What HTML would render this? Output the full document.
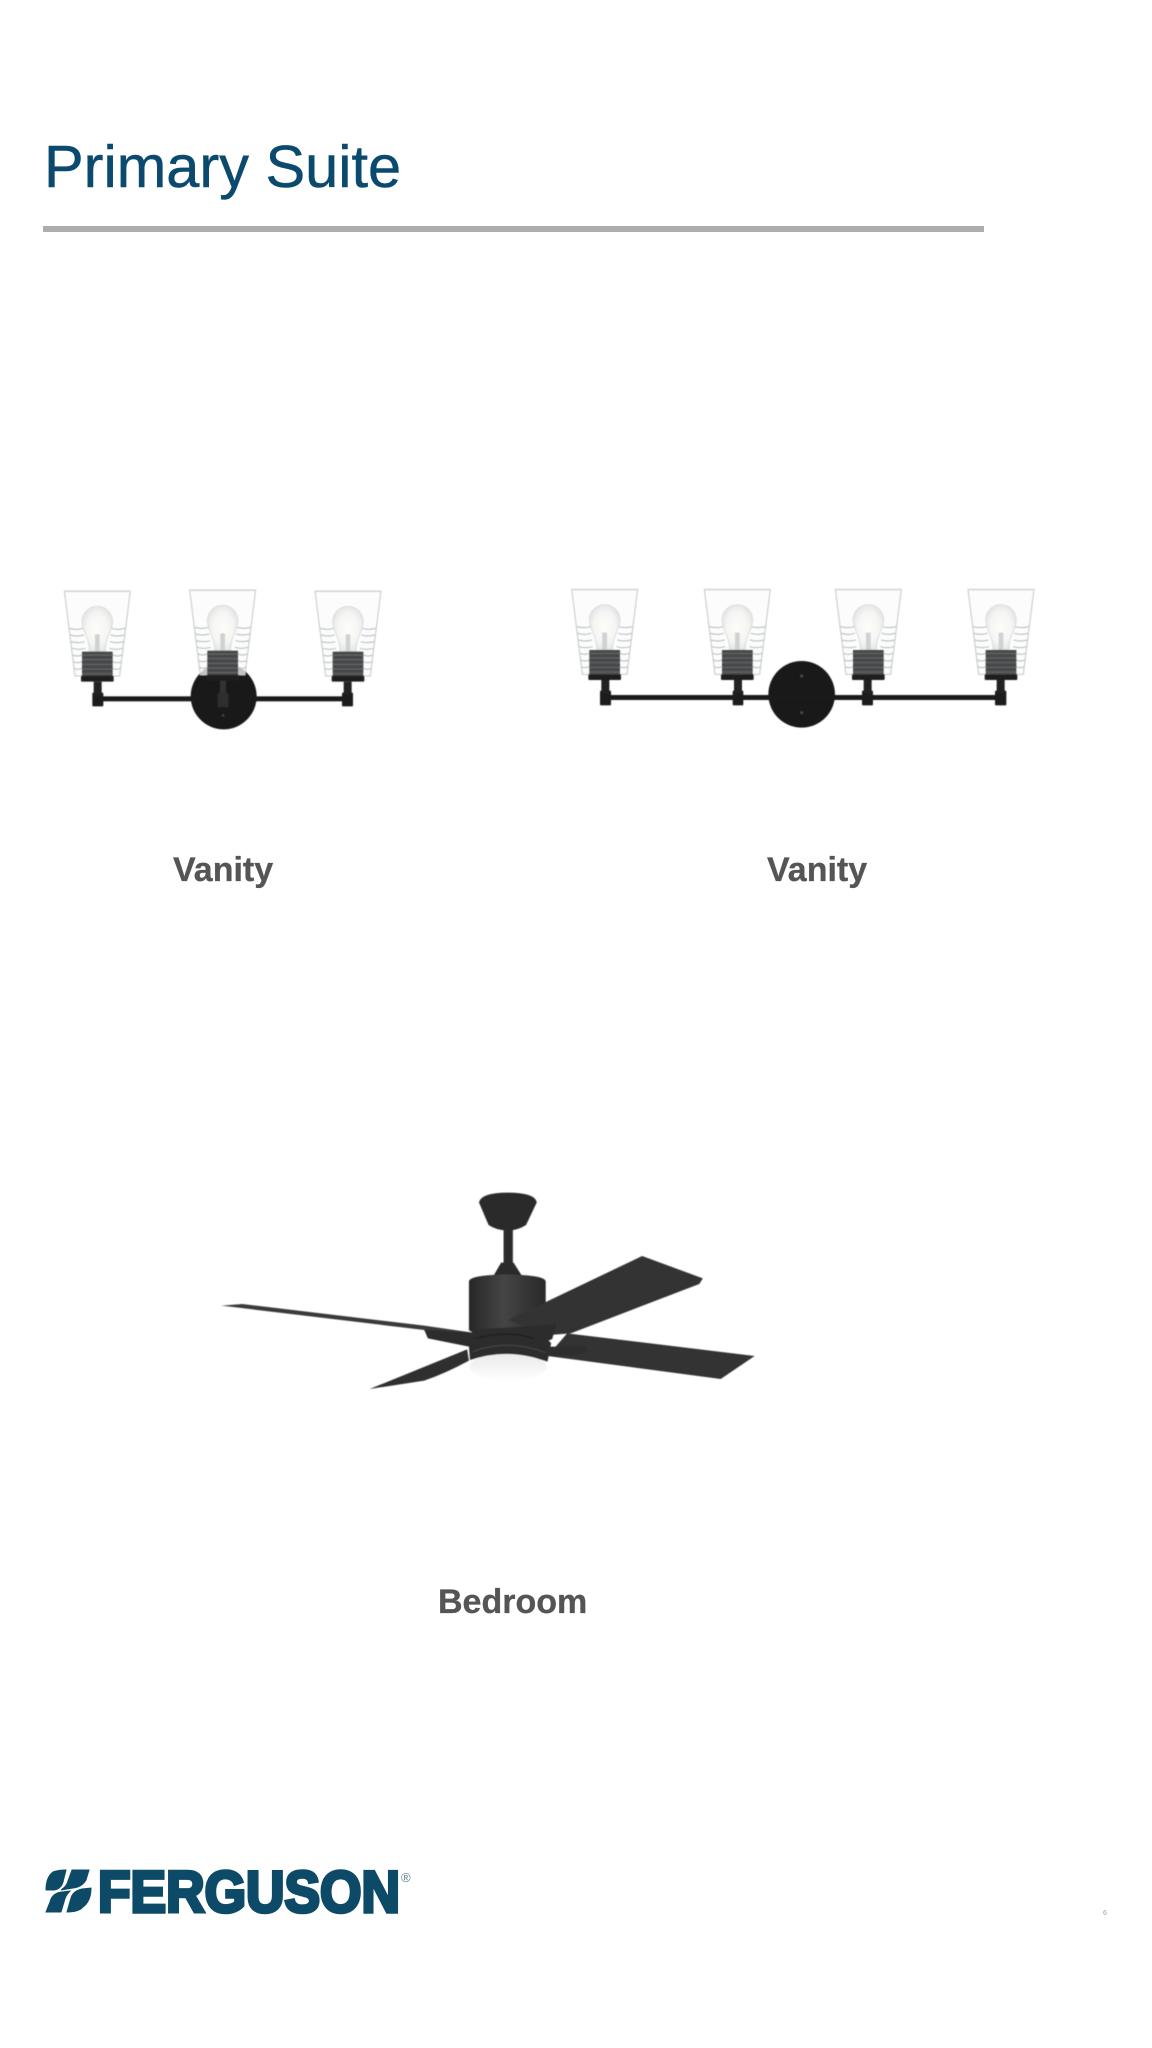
<!DOCTYPE html>
<html><head><meta charset="utf-8"><title>Primary Suite</title>
<style>
html,body{margin:0;padding:0;background:#fff}
#p{position:relative;width:1152px;height:2048px;background:#fff;overflow:hidden;font-family:"Liberation Sans",Arial,sans-serif}
.t{position:absolute;white-space:nowrap;line-height:1}
svg{position:absolute;overflow:visible}
.lb{font-weight:700;font-size:34px;color:#555;-webkit-text-stroke:.3px #555}
.soft{filter:blur(.55px)}
</style></head><body><div id="p">
<div class="t" style="left:44px;top:137px;font-size:59.5px;color:#0b4a6e;-webkit-text-stroke:.5px #0b4a6e">Primary Suite</div>
<div style="position:absolute;left:43px;top:226px;width:941px;height:6px;background:#adadad"></div>

<svg width="0" height="0" style="position:absolute"><defs>
<radialGradient id="bg"><stop offset="0" stop-color="#fffdf8"/><stop offset=".7" stop-color="#f5f5f4"/><stop offset="1" stop-color="#e6e7e7"/></radialGradient>
<linearGradient id="mg" x1="0" x2="1"><stop offset="0" stop-color="#272727"/><stop offset=".45" stop-color="#454545"/><stop offset="1" stop-color="#292929"/></linearGradient>
<linearGradient id="gl" x1="0" y1="0" x2="0" y2="1"><stop offset="0" stop-color="#e9e9e9"/><stop offset="1" stop-color="#fff"/></linearGradient>
<g id="shade">
<path d="M-99 0H99L67 255H-67Z" fill="#fbfbfb" fill-opacity=".75" stroke="#c2c8c9" stroke-width="3"/>
<path d="M-99 2H99" stroke="#dcdfdf" stroke-width="3"/>
<g stroke="#b2b9ba" stroke-width="3" fill="none">
<path d="M-83 112Q-62 118 -42 112M42 112Q62 118 83 112M-81 132Q-60 138 -40 132M40 132Q60 138 81 132M-79 152Q-58 158 -38 152M38 152Q58 158 79 152M-76 172Q-56 178 -36 172M36 172Q56 178 76 172M-74 192Q-60 198 -46 192M46 192Q60 198 74 192M-72 212Q-59 218 -46 212M46 212Q59 218 72 212M-70 232Q-58 238 -46 232M46 232Q58 238 70 232"/>
</g>
<path d="M-46 92A46 46 0 1 1 46 92C46 122 24 135 24 182H-24C-24 135 -46 122 -46 92Z" fill="url(#bg)" stroke="#d2d6d6" stroke-width="2"/>
<rect x="-7" y="130" width="14" height="52" fill="#cfd2d2"/>
<rect x="-46" y="182" width="92" height="73" fill="#464849"/>
<g stroke="#6a6c6e" stroke-width="3"><path d="M-46 192H46M-46 206H46M-46 220H46M-46 234H46M-46 248H46"/></g>
<rect x="-49" y="255" width="98" height="17" rx="3" fill="#1e1e1e"/>
</g>
</defs></svg>

<!-- sconce 1 -->
<svg class="soft" style="left:40px;top:570px" width="380" height="330" viewBox="0 0 1140 990">
<circle cx="551" cy="379" r="99" fill="#191919"/>
<rect x="186" y="379" width="722" height="15" fill="#1a1a1a"/>
<rect x="157" y="368" width="33" height="41" rx="3" fill="#1c1c1c"/>
<rect x="906" y="368" width="33" height="41" rx="3" fill="#1c1c1c"/>
<rect x="161" y="335" width="24" height="40" fill="#222"/>
<rect x="911" y="335" width="24" height="40" fill="#222"/>
<rect x="540" y="330" width="18" height="40" fill="#333"/>
<rect x="533" y="368" width="32" height="44" fill="#2e2e2e"/>
<circle cx="549" cy="436" r="4" fill="#444"/>
<use href="#shade" x="172" y="63"/>
<use href="#shade" x="548" y="60"/>
<use href="#shade" x="924" y="63"/>
</svg>

<!-- sconce 2 -->
<svg class="soft" style="left:550px;top:570px" width="500" height="330" viewBox="0 0 1500 990">
<circle cx="755" cy="373" r="100" fill="#191919"/>
<rect x="180" y="375" width="1160" height="15" fill="#1a1a1a"/>
<g fill="#1c1c1c">
<rect x="150" y="362" width="33" height="44" rx="3"/><rect x="548" y="362" width="32" height="44" rx="3"/>
<rect x="936" y="362" width="33" height="44" rx="3"/><rect x="1335" y="362" width="34" height="44" rx="3"/>
</g>
<g fill="#222">
<rect x="154" y="330" width="24" height="40"/><rect x="552" y="330" width="24" height="40"/>
<rect x="941" y="330" width="24" height="40"/><rect x="1340" y="330" width="24" height="40"/>
</g>
<circle cx="755" cy="318" r="5" fill="#444"/><circle cx="755" cy="428" r="5" fill="#444"/>
<use href="#shade" x="164" y="58"/>
<use href="#shade" x="562" y="58"/>
<use href="#shade" x="955" y="58"/>
<use href="#shade" x="1353" y="58"/>
</svg>

<div class="t lb" style="left:173px;top:853px">Vanity</div>
<div class="t lb" style="left:767px;top:853px">Vanity</div>

<!-- fan -->
<svg class="soft" style="left:210px;top:1170px" width="560" height="260" viewBox="0 0 1568 780" preserveAspectRatio="none">
<ellipse cx="835" cy="590" rx="108" ry="42" fill="url(#gl)"/>
<path d="M447 657L720 538L725 572Q660 610 600 632Z" fill="#2f2f2f"/>
<path d="M1000 490L1525 558L1430 627L945 558Z" fill="#333"/>
<path d="M32 407L90 402L600 467L735 488L745 512L610 500L600 480Z" fill="#3a3a3a"/>
<path d="M795 315L815 278H850L872 315Z" fill="#2a2a2a"/>
<rect x="822" y="175" width="26" height="110" fill="#2b2b2b"/>
<path d="M753 97Q760 68 833 68Q910 68 915 97L885 165Q860 182 833 182Q800 180 780 165Z" fill="#2a2a2a"/>
<path d="M725 335Q725 315 830 313Q940 315 940 335V470L725 482Z" fill="url(#mg)"/>
<path d="M835 450L1210 258L1380 325L1370 342L1010 490L950 495L875 465Z" fill="#333"/>
<path d="M725 480L945 465L970 460L955 520L945 575Q835 530 728 570L725 530L610 505L600 480L735 488Z" fill="#2c2c2c"/>
<path d="M950 530L1055 530L1050 552L945 558Z" fill="#2e2e2e"/>
<path d="M745 505Q835 480 905 505" stroke="#1f1f1f" stroke-width="4" fill="none"/>
<path d="M735 545Q835 505 940 548" stroke="#4a4a4a" stroke-width="3" fill="none"/>
<path d="M948 512L962 505L956 520Z" fill="#fff"/>
</svg>
<div class="t lb" style="left:438px;top:1585px">Bedroom</div>

<!-- logo -->
<svg style="left:40px;top:1860px" width="380" height="60" viewBox="0 0 380 60">
<g fill="#0d4a68" stroke="#0d4a68" stroke-width="1">
<path d="M26 10L23 22Q21 29 14 30L6 30Q6 17 13 12Q18 10 26 10Z"/>
<path d="M32 10H49L46 20Q42 27 33 28L21 30Q27 26 28 21Z"/>
<path d="M6 52L10 42Q12 33 22 32L30 31Q25 36 24 42L21 52Z"/>
<path d="M27 52L31 38Q33 31 42 29L51 28Q51 41 43 47Q39 52 27 52Z"/>
</g>
<text x="58" y="52" font-family="'Liberation Sans',sans-serif" font-weight="700" font-size="58" textLength="302" lengthAdjust="spacingAndGlyphs" fill="#0d4a68" stroke="#0d4a68" stroke-width="3.6">FERGUSON</text>
<text x="361" y="22" font-family="'Liberation Sans',sans-serif" font-size="13" fill="#5f8090">®</text>
</svg>

<div class="t" style="left:1103px;top:1910px;font-size:7px;color:#9a9a9a">6</div>
</div></body></html>
